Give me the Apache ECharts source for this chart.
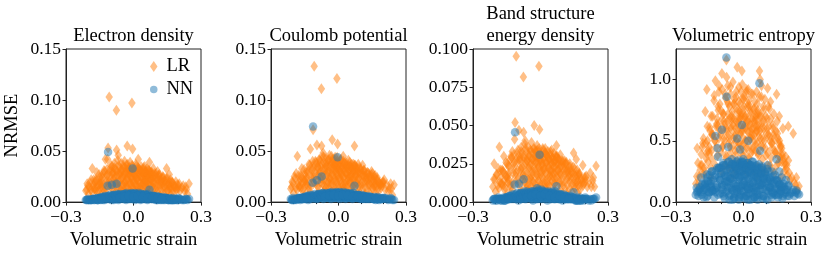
<!DOCTYPE html>
<html><head><meta charset="utf-8">
<script src="https://cdn.jsdelivr.net/npm/echarts@6/dist/echarts.min.js"></script>
<style>html,body{margin:0;padding:0;background:#fff}#c{width:830px;height:255px}</style>
</head><body><div id="c"></div>
<script>
// Shared volumetric strain of each sample (x values)
const strains = [
-0.108,-0.076,-0.007,-0.113,-0.004,-0.115,-0.096,-0.075,0.071,-0.125,
-0.183,-0.163,-0.206,-0.028,-0.015,-0.068,0.074,0.107,0.147,0.159,
0.188,0.247,0.221,0.199,0.021,-0.196,0.235,-0.188,0.24,-0.208,
-0.19,-0.17,-0.16,-0.15,-0.14,-0.135,-0.13,-0.12,-0.118,-0.11,
-0.105,-0.1,-0.095,-0.09,-0.088,-0.085,-0.08,-0.078,-0.072,-0.07,
-0.065,-0.062,-0.06,-0.057,-0.055,-0.052,-0.05,-0.047,-0.045,-0.042,
-0.04,-0.037,-0.035,-0.032,-0.03,-0.027,-0.025,-0.022,-0.02,-0.018,
-0.015,-0.012,-0.01,-0.008,-0.005,-0.002,0.0,0.003,0.005,0.008,
0.01,0.012,0.015,0.018,0.02,0.023,0.025,0.028,0.03,0.033,
0.035,0.038,0.04,0.043,0.045,0.048,0.05,0.053,0.055,0.058,
0.06,0.063,0.065,0.068,0.07,0.075,0.078,0.08,0.085,0.088,
0.09,0.095,0.1,0.105,0.11,0.115,0.12,0.125,0.13,0.135,
0.14,0.145,0.15,0.155,0.16,0.17,0.175,0.18,0.19,0.2,
-0.2,-0.175,-0.145,-0.125,-0.098,-0.083,-0.067,-0.048,-0.033,-0.017,
0.006,0.016,0.031,0.046,0.062,0.082,0.098,0.118,0.138,0.165,
-0.148,-0.142,-0.137,-0.128,-0.122,-0.116,-0.112,-0.103,-0.101,-0.093,
-0.091,-0.086,-0.082,-0.079,-0.074,-0.071,-0.066,-0.063,-0.059,-0.056,
-0.053,-0.049,-0.046,-0.043,-0.039,-0.036,-0.034,-0.031,-0.029,-0.026,
-0.023,-0.021,-0.019,-0.016,-0.013,-0.011,-0.009,-0.006,-0.003,-0.001,
0.002,0.004,0.007,0.009,0.011,0.014,0.017,0.019,0.022,0.024,
0.027,0.029,0.032,0.034,0.037,0.039,0.042,0.044,0.047,0.049,
0.052,0.054,0.057,0.059,0.062,0.064,0.067,0.069,0.073,0.077,
0.081,0.084,0.087,0.092,0.097,0.102,0.108,0.113,0.117,0.123,
0.128,0.133,0.142,0.148,0.153,0.158,0.163,0.168,0.173,0.185,
-0.185,-0.178,-0.172,-0.165,-0.158,-0.152,-0.146,0.178,0.195,0.208,
-0.168,-0.161,-0.153,-0.144,-0.139,-0.131,-0.126,-0.119,-0.109,-0.104,
-0.097,-0.092,-0.087,-0.081,-0.077,-0.069,-0.064,-0.058,-0.051,-0.044,
-0.038,-0.033,-0.024,-0.017,-0.011,-0.004,0.001,0.006,0.013,0.021,
0.026,0.036,0.041,0.051,0.056,0.061,0.066,0.072,0.079,0.083,
0.089,0.093,0.099,0.104,0.111,0.116,0.121,0.127,0.132,0.137,
0.143,0.151,0.157,0.162,0.167,0.172,0.182,0.193,0.203,0.215,
-0.212,-0.203,-0.193,-0.181,-0.177,-0.167,-0.156,-0.141,0.226,0.232,
-0.062,-0.041,-0.021,0.0,0.019,0.041,0.063,0.086,0.106,0.126
];
// Electron density NRMSE
const lrElectron = [
0.103,0.090,0.097,0.053,0.052,0.042,0.035,0.051,0.039,0.042,
0.033,0.029,0.018,0.055,0.030,0.046,0.028,0.030,0.033,0.027,
0.020,0.018,0.016,0.013,0.042,0.015,0.012,0.022,0.008,0.012,
0.012,0.02,0.009,0.024,0.015,0.028,0.011,0.021,0.032,0.017,
0.026,0.036,0.013,0.029,0.022,0.038,0.016,0.031,0.025,0.041,
0.019,0.034,0.027,0.012,0.038,0.023,0.031,0.017,0.036,0.026,
0.04,0.02,0.033,0.014,0.028,0.037,0.022,0.032,0.009,0.027,
0.039,0.018,0.03,0.024,0.035,0.014,0.028,0.033,0.021,0.026,
0.037,0.016,0.03,0.023,0.034,0.011,0.027,0.031,0.019,0.035,
0.025,0.029,0.015,0.032,0.022,0.027,0.035,0.018,0.03,0.024,
0.033,0.013,0.027,0.021,0.031,0.017,0.026,0.029,0.02,0.033,
0.014,0.025,0.028,0.018,0.023,0.027,0.012,0.021,0.025,0.016,
0.02,0.023,0.011,0.018,0.014,0.019,0.009,0.015,0.012,0.016,
0.008,0.013,0.007,0.009,0.006,0.008,0.007,0.006,0.005,0.007,
0.006,0.008,0.005,0.007,0.006,0.008,0.007,0.006,0.008,0.007,
0.018,0.025,0.013,0.03,0.02,0.027,0.015,0.033,0.022,0.029,
0.012,0.034,0.024,0.019,0.03,0.015,0.036,0.021,0.028,0.017,
0.032,0.01,0.025,0.034,0.019,0.029,0.015,0.036,0.023,0.031,
0.013,0.027,0.034,0.019,0.031,0.024,0.016,0.036,0.021,0.029,
0.011,0.032,0.025,0.018,0.035,0.022,0.028,0.014,0.033,0.02,
0.027,0.015,0.031,0.023,0.012,0.029,0.018,0.034,0.021,0.026,
0.016,0.03,0.02,0.027,0.013,0.024,0.031,0.018,0.026,0.022,
0.029,0.015,0.024,0.019,0.027,0.013,0.022,0.026,0.016,0.021,
0.018,0.024,0.014,0.02,0.011,0.017,0.022,0.013,0.019,0.015,
0.01,0.017,0.013,0.021,0.011,0.018,0.014,0.012,0.017,0.011,
0.022,0.015,0.027,0.018,0.024,0.031,0.014,0.026,0.02,0.03,
0.017,0.028,0.023,0.033,0.019,0.027,0.013,0.03,0.024,0.016,
0.029,0.021,0.034,0.017,0.026,0.031,0.019,0.028,0.023,0.015,
0.032,0.024,0.018,0.029,0.021,0.027,0.016,0.03,0.022,0.026,
0.019,0.028,0.023,0.015,0.026,0.021,0.018,0.024,0.014,0.021,
0.017,0.023,0.013,0.019,0.015,0.02,0.016,0.013,0.018,0.014,
0.011,0.016,0.019,0.014,0.022,0.012,0.018,0.02,0.011,0.015,
0.01,0.011,0.009,0.012,0.01,0.011,0.009,0.012,0.01,0.009
];
const nnElectron = [
0.004,0.005,0.006,0.049,0.033,0.016,0.017,0.018,0.012,0.004,
0.003,0.004,0.002,0.007,0.008,0.006,0.005,0.004,0.004,0.003,
0.003,0.003,0.002,0.004,0.007,0.002,0.003,0.002,0.002,0.002,
0.002,0.003,0.002,0.004,0.003,0.002,0.005,0.003,0.004,0.006,
0.003,0.005,0.004,0.007,0.002,0.005,0.006,0.003,0.007,0.004,
0.006,0.003,0.008,0.004,0.005,0.007,0.003,0.006,0.004,0.008,
0.005,0.007,0.003,0.006,0.009,0.004,0.006,0.007,0.003,0.008,
0.005,0.007,0.004,0.009,0.006,0.003,0.008,0.005,0.007,0.004,
0.006,0.008,0.003,0.007,0.005,0.009,0.004,0.006,0.007,0.003,
0.008,0.005,0.006,0.004,0.007,0.003,0.006,0.008,0.004,0.005,
0.007,0.003,0.006,0.005,0.004,0.006,0.003,0.005,0.004,0.006,
0.003,0.005,0.004,0.002,0.005,0.003,0.004,0.002,0.004,0.003,
0.002,0.004,0.003,0.002,0.003,0.002,0.004,0.002,0.003,0.002,
0.002,0.003,0.002,0.004,0.002,0.003,0.002,0.004,0.002,0.003,
0.002,0.004,0.002,0.003,0.002,0.003,0.002,0.002,0.003,0.002,
0.004,0.003,0.005,0.002,0.004,0.006,0.003,0.005,0.004,0.006,
0.003,0.007,0.005,0.004,0.006,0.003,0.007,0.005,0.004,0.006,
0.007,0.004,0.006,0.003,0.008,0.005,0.006,0.004,0.007,0.005,
0.006,0.004,0.007,0.005,0.008,0.003,0.006,0.007,0.004,0.008,
0.005,0.007,0.004,0.006,0.008,0.005,0.003,0.007,0.006,0.004,
0.007,0.005,0.006,0.003,0.007,0.005,0.004,0.006,0.005,0.007,
0.004,0.006,0.003,0.005,0.006,0.004,0.005,0.003,0.006,0.004,
0.005,0.003,0.004,0.006,0.003,0.004,0.002,0.005,0.003,0.004,
0.003,0.002,0.004,0.003,0.002,0.003,0.002,0.003,0.002,0.002,
0.002,0.003,0.002,0.003,0.002,0.004,0.003,0.002,0.002,0.003,
0.003,0.002,0.004,0.003,0.005,0.004,0.006,0.004,0.005,0.007,
0.005,0.006,0.004,0.007,0.005,0.008,0.006,0.005,0.007,0.006,
0.008,0.006,0.007,0.005,0.008,0.006,0.007,0.009,0.006,0.007,
0.005,0.008,0.006,0.007,0.005,0.006,0.008,0.005,0.006,0.004,
0.006,0.005,0.004,0.006,0.004,0.005,0.003,0.004,0.005,0.003,
0.004,0.003,0.002,0.004,0.003,0.002,0.003,0.002,0.003,0.002,
0.002,0.003,0.002,0.003,0.002,0.003,0.002,0.003,0.002,0.003,
0.004,0.005,0.006,0.005,0.006,0.005,0.004,0.005,0.004,0.003
];
// Coulomb potential NRMSE
const lrCoulomb = [
0.133,0.111,0.121,0.071,0.057,0.040,0.056,0.055,0.055,0.052,
0.045,0.033,0.020,0.061,0.036,0.048,0.036,0.036,0.030,0.025,
0.017,0.017,0.011,0.020,0.045,0.025,0.013,0.028,0.007,0.015,
0.014,0.022,0.011,0.027,0.017,0.03,0.013,0.024,0.035,0.02,
0.029,0.039,0.016,0.033,0.025,0.042,0.019,0.035,0.028,0.045,
0.022,0.038,0.031,0.014,0.043,0.026,0.036,0.02,0.041,0.03,
0.046,0.023,0.038,0.017,0.032,0.042,0.025,0.036,0.011,0.031,
0.044,0.021,0.034,0.027,0.04,0.016,0.032,0.037,0.024,0.03,
0.041,0.018,0.034,0.026,0.038,0.013,0.03,0.035,0.021,0.039,
0.028,0.033,0.017,0.036,0.025,0.031,0.039,0.02,0.034,0.027,
0.037,0.015,0.031,0.024,0.035,0.019,0.029,0.033,0.022,0.037,
0.016,0.028,0.032,0.02,0.026,0.031,0.014,0.024,0.029,0.018,
0.023,0.027,0.013,0.021,0.016,0.022,0.01,0.018,0.014,0.019,
0.009,0.015,0.008,0.01,0.007,0.009,0.008,0.007,0.006,0.008,
0.007,0.009,0.006,0.008,0.007,0.009,0.008,0.007,0.009,0.008,
0.021,0.03,0.016,0.036,0.024,0.032,0.018,0.04,0.026,0.035,
0.015,0.041,0.029,0.023,0.037,0.018,0.044,0.026,0.034,0.02,
0.039,0.012,0.03,0.042,0.023,0.036,0.018,0.045,0.028,0.038,
0.016,0.033,0.042,0.023,0.038,0.029,0.019,0.044,0.026,0.035,
0.013,0.039,0.03,0.022,0.042,0.026,0.034,0.017,0.04,0.024,
0.033,0.018,0.037,0.028,0.014,0.035,0.022,0.041,0.025,0.031,
0.019,0.036,0.024,0.033,0.016,0.029,0.037,0.022,0.031,0.026,
0.034,0.018,0.029,0.023,0.032,0.016,0.026,0.031,0.019,0.025,
0.021,0.028,0.017,0.024,0.013,0.02,0.026,0.015,0.022,0.017,
0.012,0.02,0.016,0.025,0.013,0.021,0.017,0.014,0.019,0.012,
0.026,0.018,0.032,0.022,0.029,0.037,0.017,0.031,0.024,0.036,
0.02,0.034,0.028,0.04,0.023,0.032,0.016,0.036,0.029,0.019,
0.035,0.025,0.041,0.02,0.031,0.037,0.023,0.034,0.028,0.018,
0.038,0.029,0.022,0.035,0.025,0.032,0.019,0.036,0.026,0.031,
0.023,0.034,0.028,0.018,0.031,0.025,0.022,0.029,0.017,0.025,
0.02,0.028,0.016,0.023,0.018,0.024,0.019,0.016,0.022,0.017,
0.013,0.019,0.023,0.017,0.026,0.014,0.022,0.024,0.013,0.018,
0.012,0.013,0.011,0.014,0.012,0.013,0.011,0.014,0.012,0.011
];
const nnCoulomb = [
0.004,0.005,0.006,0.074,0.044,0.019,0.0215,0.025,0.016,0.004,
0.003,0.004,0.002,0.008,0.009,0.007,0.005,0.004,0.004,0.003,
0.003,0.002,0.002,0.004,0.008,0.002,0.003,0.002,0.002,0.002,
0.003,0.002,0.004,0.003,0.005,0.002,0.004,0.006,0.003,0.005,
0.004,0.006,0.003,0.008,0.005,0.004,0.007,0.005,0.006,0.009,
0.005,0.008,0.004,0.007,0.006,0.009,0.004,0.007,0.005,0.009,
0.006,0.008,0.004,0.007,0.01,0.005,0.007,0.008,0.004,0.009,
0.006,0.008,0.005,0.01,0.007,0.004,0.009,0.006,0.008,0.005,
0.007,0.009,0.004,0.008,0.006,0.01,0.005,0.007,0.008,0.004,
0.009,0.006,0.007,0.005,0.008,0.004,0.007,0.009,0.005,0.006,
0.008,0.004,0.007,0.006,0.005,0.007,0.004,0.006,0.005,0.007,
0.004,0.006,0.005,0.003,0.006,0.004,0.005,0.003,0.005,0.004,
0.003,0.005,0.004,0.003,0.004,0.003,0.005,0.002,0.004,0.003,
0.002,0.004,0.003,0.005,0.003,0.004,0.003,0.005,0.003,0.004,
0.003,0.005,0.003,0.004,0.003,0.004,0.003,0.003,0.004,0.002,
0.005,0.004,0.006,0.003,0.005,0.007,0.004,0.006,0.005,0.007,
0.004,0.008,0.006,0.005,0.007,0.004,0.008,0.006,0.005,0.007,
0.008,0.005,0.007,0.004,0.009,0.006,0.007,0.005,0.008,0.006,
0.007,0.005,0.008,0.006,0.009,0.004,0.007,0.008,0.005,0.009,
0.006,0.008,0.005,0.007,0.009,0.006,0.004,0.008,0.007,0.005,
0.008,0.006,0.007,0.004,0.008,0.006,0.005,0.007,0.006,0.008,
0.005,0.007,0.004,0.006,0.007,0.005,0.006,0.004,0.007,0.005,
0.006,0.004,0.005,0.007,0.004,0.005,0.003,0.006,0.004,0.005,
0.004,0.003,0.005,0.004,0.003,0.004,0.003,0.004,0.003,0.003,
0.003,0.004,0.003,0.004,0.003,0.005,0.004,0.003,0.003,0.004,
0.004,0.003,0.005,0.004,0.006,0.005,0.007,0.005,0.006,0.008,
0.006,0.007,0.005,0.008,0.006,0.009,0.007,0.006,0.008,0.007,
0.009,0.007,0.008,0.006,0.009,0.007,0.008,0.01,0.007,0.008,
0.006,0.009,0.007,0.008,0.006,0.007,0.009,0.006,0.007,0.005,
0.007,0.006,0.005,0.007,0.005,0.006,0.004,0.005,0.006,0.004,
0.005,0.004,0.003,0.005,0.004,0.003,0.004,0.003,0.004,0.003,
0.003,0.004,0.003,0.004,0.003,0.004,0.003,0.004,0.003,0.004,
0.005,0.006,0.007,0.006,0.007,0.006,0.005,0.006,0.005,0.004
];
// Band structure energy density NRMSE
const lrBand = [
0.0952,0.0817,0.0887,0.052,0.0474,0.041,0.047,0.0457,0.037,0.033,
0.036,0.030,0.025,0.050,0.034,0.040,0.030,0.027,0.032,0.028,
0.024,0.0235,0.019,0.0137,0.035,0.018,0.016,0.022,0.010,0.015,
0.011,0.021,0.008,0.025,0.014,0.028,0.01,0.022,0.031,0.017,
0.026,0.034,0.013,0.029,0.021,0.036,0.015,0.03,0.024,0.038,
0.018,0.033,0.027,0.011,0.036,0.022,0.03,0.016,0.034,0.025,
0.039,0.019,0.032,0.013,0.027,0.035,0.021,0.03,0.009,0.026,
0.037,0.017,0.029,0.023,0.033,0.012,0.027,0.031,0.02,0.025,
0.035,0.015,0.029,0.022,0.032,0.01,0.026,0.03,0.018,0.033,
0.024,0.028,0.014,0.031,0.021,0.026,0.034,0.017,0.029,0.023,
0.032,0.012,0.027,0.02,0.03,0.016,0.025,0.028,0.019,0.031,
0.013,0.024,0.027,0.017,0.022,0.026,0.011,0.02,0.025,0.015,
0.019,0.023,0.01,0.017,0.013,0.018,0.008,0.015,0.011,0.016,
0.007,0.012,0.006,0.008,0.005,0.007,0.006,0.005,0.004,0.006,
0.005,0.007,0.004,0.006,0.005,0.007,0.006,0.005,0.007,0.006,
0.016,0.024,0.011,0.029,0.019,0.026,0.013,0.032,0.021,0.028,
0.01,0.033,0.023,0.017,0.029,0.013,0.035,0.02,0.027,0.015,
0.031,0.009,0.024,0.033,0.017,0.028,0.013,0.035,0.022,0.03,
0.012,0.026,0.033,0.018,0.03,0.023,0.014,0.035,0.02,0.028,
0.01,0.031,0.024,0.016,0.034,0.021,0.027,0.012,0.032,0.019,
0.026,0.013,0.03,0.022,0.011,0.028,0.017,0.033,0.02,0.025,
0.014,0.029,0.019,0.026,0.012,0.023,0.03,0.016,0.025,0.021,
0.028,0.013,0.023,0.018,0.026,0.011,0.021,0.025,0.015,0.02,
0.017,0.023,0.012,0.019,0.009,0.015,0.021,0.011,0.018,0.013,
0.009,0.016,0.012,0.02,0.01,0.017,0.013,0.011,0.016,0.01,
0.02,0.014,0.026,0.017,0.023,0.03,0.013,0.025,0.019,0.029,
0.016,0.027,0.022,0.032,0.018,0.026,0.012,0.029,0.023,0.015,
0.028,0.02,0.033,0.016,0.025,0.03,0.018,0.027,0.022,0.014,
0.031,0.023,0.017,0.028,0.02,0.026,0.015,0.029,0.021,0.025,
0.018,0.027,0.022,0.014,0.025,0.02,0.017,0.023,0.013,0.02,
0.016,0.022,0.012,0.018,0.014,0.019,0.015,0.012,0.017,0.013,
0.01,0.015,0.018,0.013,0.021,0.011,0.017,0.019,0.01,0.014,
0.009,0.01,0.008,0.011,0.009,0.01,0.008,0.011,0.009,0.008
];
const nnBand = [
0.003,0.004,0.005,0.0457,0.031,0.0115,0.012,0.015,0.0104,0.003,
0.002,0.003,0.002,0.006,0.009,0.005,0.004,0.003,0.0065,0.002,
0.002,0.003,0.002,0.003,0.006,0.002,0.002,0.003,0.002,0.002,
0.002,0.002,0.001,0.003,0.002,0.002,0.004,0.002,0.003,0.005,
0.002,0.004,0.003,0.006,0.002,0.004,0.005,0.003,0.006,0.003,
0.005,0.002,0.007,0.003,0.004,0.006,0.003,0.005,0.003,0.006,
0.004,0.006,0.002,0.005,0.007,0.003,0.005,0.006,0.002,0.007,
0.004,0.006,0.003,0.008,0.005,0.002,0.006,0.004,0.006,0.003,
0.005,0.007,0.003,0.006,0.004,0.007,0.003,0.005,0.006,0.003,
0.006,0.004,0.005,0.003,0.006,0.002,0.005,0.007,0.003,0.004,
0.006,0.002,0.005,0.004,0.003,0.005,0.002,0.004,0.003,0.005,
0.002,0.004,0.003,0.002,0.004,0.002,0.003,0.002,0.003,0.002,
0.002,0.003,0.002,0.001,0.002,0.002,0.003,0.001,0.002,0.002,
0.001,0.002,0.002,0.003,0.001,0.002,0.002,0.003,0.001,0.002,
0.002,0.003,0.001,0.002,0.002,0.002,0.001,0.002,0.002,0.001,
0.003,0.002,0.004,0.002,0.003,0.005,0.002,0.004,0.003,0.005,
0.002,0.006,0.004,0.003,0.005,0.002,0.006,0.004,0.003,0.005,
0.006,0.003,0.005,0.002,0.007,0.004,0.005,0.003,0.006,0.004,
0.005,0.003,0.006,0.004,0.007,0.002,0.005,0.006,0.003,0.007,
0.004,0.006,0.003,0.005,0.007,0.004,0.002,0.006,0.005,0.003,
0.006,0.004,0.005,0.002,0.006,0.004,0.003,0.005,0.004,0.006,
0.003,0.005,0.002,0.004,0.005,0.003,0.004,0.002,0.005,0.003,
0.004,0.002,0.003,0.005,0.002,0.003,0.002,0.004,0.002,0.003,
0.002,0.002,0.003,0.002,0.002,0.002,0.001,0.002,0.002,0.002,
0.002,0.002,0.001,0.002,0.002,0.003,0.002,0.001,0.002,0.002,
0.002,0.001,0.003,0.002,0.004,0.003,0.005,0.003,0.004,0.006,
0.004,0.005,0.003,0.006,0.004,0.007,0.005,0.004,0.006,0.005,
0.007,0.005,0.006,0.004,0.007,0.005,0.006,0.008,0.005,0.006,
0.004,0.007,0.005,0.006,0.004,0.005,0.007,0.004,0.005,0.003,
0.005,0.004,0.003,0.005,0.003,0.004,0.002,0.003,0.004,0.002,
0.003,0.002,0.001,0.003,0.002,0.001,0.002,0.001,0.002,0.001,
0.001,0.002,0.001,0.002,0.001,0.002,0.001,0.002,0.001,0.002,
0.003,0.004,0.005,0.004,0.005,0.004,0.003,0.004,0.003,0.002
];
// Volumetric entropy NRMSE
const lrEntropy = [
0.95,1.16,1.07,0.78,0.85,0.62,1.05,1.02,1.07,0.99,
0.45,0.92,0.44,1.10,0.70,0.80,1.00,0.93,0.88,0.70,
0.37,0.13,0.56,0.62,0.92,0.21,0.20,0.39,0.10,0.21,
0.3,0.74,0.5,0.61,0.35,0.55,0.87,0.45,0.68,0.52,
0.8,0.41,0.92,0.6,0.72,0.5,0.85,0.38,0.66,0.95,
0.55,0.78,0.45,0.88,0.62,0.35,0.74,0.98,0.52,0.68,
0.84,0.42,0.6,0.9,0.5,0.76,0.33,0.66,0.94,0.56,
0.8,0.46,0.7,0.58,0.96,0.38,0.75,0.62,0.86,0.5,
0.68,0.9,0.44,0.78,0.57,0.83,0.36,0.64,0.74,0.52,
0.88,0.6,0.42,0.76,0.66,0.55,0.82,0.47,0.7,0.9,
0.58,0.75,0.4,0.64,0.86,0.52,0.7,0.95,0.45,0.78,
0.6,0.84,0.38,0.68,0.55,0.76,0.82,0.48,0.63,0.72,
0.42,0.58,0.66,0.32,0.5,0.44,0.6,0.25,0.27,0.34,
0.15,0.28,0.2,0.3,0.25,0.3,0.28,0.22,0.26,0.3,
0.27,0.24,0.3,0.26,0.22,0.28,0.25,0.3,0.24,0.2,
0.58,0.42,0.7,0.5,0.62,0.38,0.75,0.55,0.66,0.45,
0.72,0.53,0.64,0.36,0.58,0.82,0.48,0.68,0.4,0.6,
0.7,0.46,0.63,0.8,0.54,0.38,0.66,0.5,0.74,0.44,
0.6,0.82,0.48,0.68,0.4,0.56,0.72,0.46,0.64,0.52,
0.78,0.42,0.6,0.7,0.5,0.66,0.36,0.58,0.8,0.46,
0.62,0.52,0.72,0.4,0.56,0.68,0.44,0.6,0.76,0.5,
0.66,0.42,0.58,0.72,0.48,0.62,0.38,0.54,0.7,0.46,
0.6,0.35,0.52,0.66,0.44,0.56,0.4,0.62,0.5,0.36,
0.48,0.55,0.4,0.3,0.52,0.38,0.45,0.33,0.4,0.3,
0.3,0.52,0.25,0.4,0.33,0.45,0.28,0.35,0.22,0.18,
0.48,0.62,0.4,0.7,0.55,0.83,0.5,0.64,0.9,0.58,
0.74,0.46,0.66,0.88,0.6,0.72,0.52,0.94,0.68,0.8,
0.56,0.86,0.64,0.74,0.9,0.6,0.84,0.7,0.92,0.66,
0.78,0.54,0.88,0.68,0.62,0.8,0.72,0.58,0.86,0.65,
0.75,0.5,0.7,0.6,0.78,0.54,0.68,0.44,0.6,0.52,
0.4,0.56,0.48,0.36,0.46,0.38,0.32,0.3,0.24,0.2,
0.15,0.32,0.26,0.48,0.22,0.36,0.42,0.55,0.16,0.14,
0.3,0.28,0.32,0.27,0.3,0.26,0.29,0.25,0.3,0.27
];
const nnEntropy = [
0.28,1.18,0.63,0.37,0.33,0.44,0.59,0.86,0.97,0.54,
0.15,0.225,0.08,0.52,0.43,0.45,0.42,0.30,0.35,0.25,
0.18,0.0625,0.10,0.13,0.50,0.10,0.095,0.20,0.07,0.117,
0.08,0.15,0.05,0.22,0.1,0.18,0.04,0.26,0.12,0.2,
0.07,0.28,0.14,0.32,0.05,0.24,0.17,0.3,0.09,0.21,
0.33,0.12,0.27,0.06,0.19,0.35,0.1,0.24,0.15,0.3,
0.04,0.22,0.31,0.13,0.27,0.08,0.34,0.18,0.25,0.11,
0.29,0.06,0.21,0.33,0.14,0.26,0.09,0.31,0.17,0.23,
0.05,0.28,0.12,0.32,0.19,0.07,0.25,0.15,0.3,0.1,
0.22,0.33,0.08,0.27,0.16,0.24,0.04,0.29,0.12,0.2,
0.26,0.09,0.18,0.31,0.06,0.23,0.14,0.28,0.11,0.2,
0.05,0.24,0.16,0.27,0.09,0.19,0.12,0.25,0.07,0.17,
0.22,0.06,0.18,0.1,0.15,0.2,0.05,0.12,0.08,0.14,
0.05,0.1,0.13,0.08,0.12,0.03,0.16,0.02,0.11,0.04,
0.03,0.13,0.02,0.1,0.04,0.15,0.03,0.12,0.06,0.09,
0.15,0.25,0.09,0.2,0.12,0.28,0.06,0.18,0.23,0.1,
0.3,0.14,0.22,0.08,0.26,0.17,0.33,0.05,0.2,0.28,
0.12,0.31,0.18,0.24,0.07,0.29,0.15,0.33,0.1,0.22,
0.27,0.04,0.2,0.32,0.13,0.25,0.09,0.3,0.17,0.35,
0.08,0.23,0.3,0.14,0.27,0.05,0.21,0.32,0.11,0.26,
0.18,0.3,0.07,0.24,0.28,0.12,0.33,0.16,0.22,0.04,
0.27,0.13,0.2,0.3,0.06,0.24,0.16,0.28,0.1,0.21,
0.14,0.26,0.05,0.19,0.23,0.09,0.17,0.12,0.2,0.06,
0.15,0.08,0.18,0.11,0.04,0.14,0.07,0.12,0.03,0.1,
0.06,0.1,0.14,0.04,0.17,0.08,0.12,0.15,0.05,0.07,
0.12,0.2,0.08,0.17,0.25,0.1,0.22,0.14,0.28,0.18,
0.24,0.07,0.3,0.16,0.21,0.12,0.27,0.19,0.31,0.09,
0.23,0.29,0.13,0.2,0.26,0.32,0.15,0.22,0.28,0.11,
0.25,0.3,0.17,0.23,0.09,0.27,0.2,0.14,0.24,0.29,
0.16,0.22,0.1,0.19,0.25,0.13,0.18,0.08,0.21,0.15,
0.11,0.17,0.06,0.14,0.09,0.13,0.07,0.1,0.05,0.08,
0.06,0.09,0.12,0.14,0.04,0.11,0.16,0.09,0.05,0.08,
0.02,0.03,0.02,0.04,0.02,0.03,0.02,0.03,0.02,0.04
];
const panelTitles = ['Electron density', 'Coulomb potential', 'Band structure\nenergy density', 'Volumetric entropy'];
const xTicks = [-0.3, 0.0, 0.3];
const yTicks = [[0, 0.05, 0.10, 0.15], [0, 0.05, 0.10, 0.15], [0, 0.025, 0.05, 0.075, 0.1], [0, 0.5, 1.0]];
const yDecimals = [2, 2, 3, 1];
const seriesNames = ['LR', 'NN'];
const lrSets = [lrElectron, lrCoulomb, lrBand, lrEntropy];
const nnSets = [nnElectron, nnCoulomb, nnBand, nnEntropy];

const FONT = 'Liberation Serif';
const AX = '#222';
const ORANGE = '#ff7f0e', BLUE = '#1f77b4';
const gridLefts = [66, 271, 473, 676];
const gridW = 135, gridTop = 49, gridH = 154;
const yMaxes = [0.15, 0.15, 0.1, 1.25];

const chart = echarts.init(document.getElementById('c'), null, {renderer: 'canvas'});
const grids = [], xAxes = [], yAxes = [], series = [], titles = [];
for (let i = 0; i < 4; i++) {
  grids.push({left: gridLefts[i], top: gridTop, width: gridW, height: gridH, show: true,
    borderColor: AX, borderWidth: 1, backgroundColor: 'transparent'});
  const twoLine = panelTitles[i].indexOf('\n') >= 0;
  titles.push({text: panelTitles[i], left: gridLefts[i] + gridW / 2, top: twoLine ? 3 : 25, textAlign: 'center',
    padding: 0,
    textStyle: {fontFamily: FONT, fontSize: 18.5, fontWeight: 'normal', color: '#000', lineHeight: 22}});
  xAxes.push({type: 'value', gridIndex: i, min: xTicks[0], max: xTicks[xTicks.length - 1],
    interval: xTicks[1] - xTicks[0],
    name: 'Volumetric strain', nameLocation: 'middle', nameGap: 25,
    nameTextStyle: {fontFamily: FONT, fontSize: 18.5, color: '#000'},
    axisLine: {show: true, onZero: false, lineStyle: {color: AX, width: 1}},
    axisTick: {show: true, length: 3.5, lineStyle: {color: AX}},
    minorTick: {show: true, splitNumber: 3, length: 2, lineStyle: {color: AX}},
    splitLine: {show: false}, minorSplitLine: {show: false},
    axisLabel: {fontFamily: FONT, fontSize: 17.5, color: '#000', margin: 6,
      formatter: v => (v < -1e-9 ? '\u2212' : '') + Math.abs(v).toFixed(1)}});
  const yt = yTicks[i];
  const yAx = {type: 'value', gridIndex: i, min: 0, max: yMaxes[i], interval: yt[1] - yt[0],
    axisLine: {show: true, onZero: false, lineStyle: {color: AX, width: 1}},
    axisTick: {show: true, length: 3.5, lineStyle: {color: AX}, customValues: yt},
    splitLine: {show: false},
    axisLabel: {fontFamily: FONT, fontSize: 17.5, color: '#000', margin: 5, customValues: yt,
      formatter: (v => v.toFixed(yDecimals[i]))}};
  if (i === 0) {
    yAx.name = 'NRMSE'; yAx.nameLocation = 'middle'; yAx.nameGap = 44;
    yAx.nameTextStyle = {fontFamily: FONT, fontSize: 18.5, color: '#000'};
  }
  yAxes.push(yAx);
  series.push({type: 'scatter', name: seriesNames[0], xAxisIndex: i, yAxisIndex: i,
    symbol: 'diamond', symbolSize: [7.5, 11],
    itemStyle: {color: ORANGE, opacity: 0.5}, emphasis: {disabled: true},
    data: strains.map((x, k) => [x, lrSets[i][k]])});
  series.push({type: 'scatter', name: seriesNames[1], xAxisIndex: i, yAxisIndex: i,
    symbol: 'circle', symbolSize: 8.5,
    itemStyle: {color: BLUE, opacity: 0.5}, emphasis: {disabled: true},
    data: strains.map((x, k) => [x, nnSets[i][k]])});
}
chart.setOption({
  animation: false,
  backgroundColor: '#fff',
  title: titles,
  grid: grids, xAxis: xAxes, yAxis: yAxes, series: series,
  legend: {orient: 'vertical', left: 150, top: 57, padding: 0, itemGap: 4,
    itemWidth: 7.5, itemHeight: 11,
    textStyle: {fontFamily: FONT, fontSize: 18.5, color: '#000', padding: [0, 0, 0, 4]},
    data: [{name: seriesNames[0], icon: 'diamond'}, {name: seriesNames[1], icon: 'circle'}]}
});
</script></body></html>
